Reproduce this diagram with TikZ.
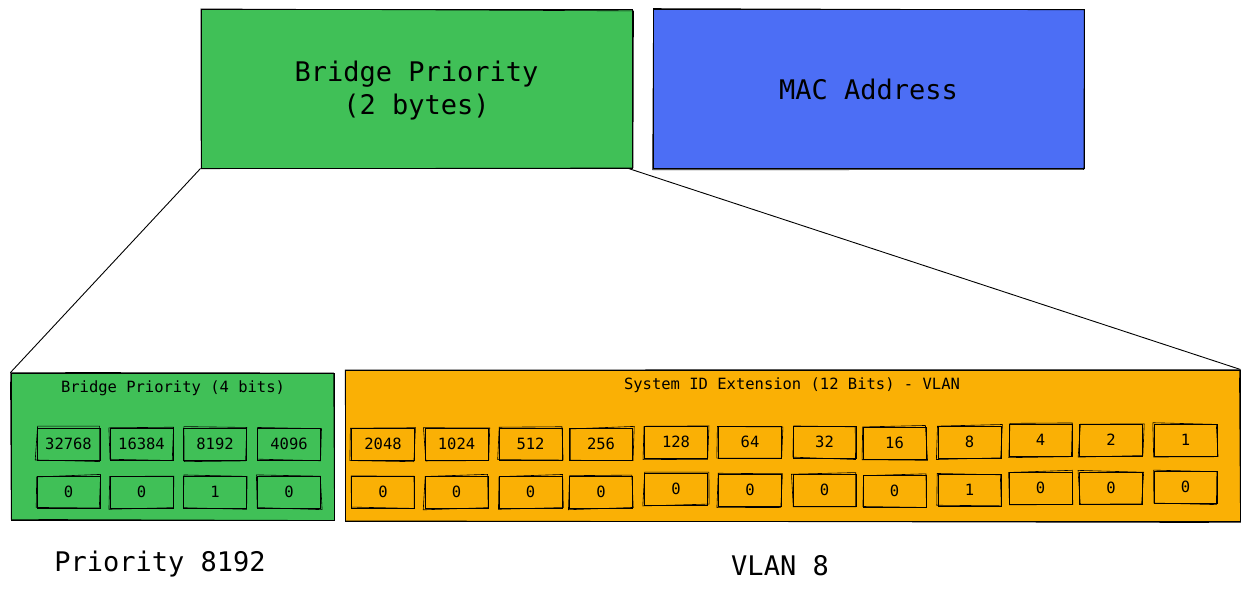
\documentclass[tikz,border=0pt]{standalone}
\usepackage{fontspec}
\setmainfont{DejaVu Sans Mono}
\definecolor{exgreen}{HTML}{40C057}
\definecolor{exblue}{HTML}{4C6EF5}
\definecolor{exorange}{HTML}{FAB005}
\newcommand\skt[1]{%
  \draw[sketchline] ([shift={({1.4*rand},{1.4*rand})}]#1.north west) -- ([shift={({1.4*rand},{1.4*rand})}]#1.north east) -- ([shift={({1.4*rand},{1.4*rand})}]#1.south east) -- ([shift={({1.4*rand},{1.4*rand})}]#1.south west) -- cycle;}
\tikzset{
  sketchline/.style={line width=0.6pt, black},
  bigbox/.style={draw, line width=1pt, inner sep=0pt, font=\fontsize{27}{33}\selectfont, align=center},
  panel/.style={draw, line width=1pt, inner sep=0pt},
  cell/.style={draw, line width=0.9pt, minimum width=63pt, minimum height=32pt, inner sep=0pt, font=\fontsize{15.5}{18}\selectfont},
  lbl/.style={font=\fontsize{15.5}{18}\selectfont, inner sep=0pt},
  biglbl/.style={font=\fontsize{27}{33}\selectfont, inner sep=0pt},
  conn/.style={line width=0.9pt, black},
}
\begin{document}
\begin{tikzpicture}[x=1pt,y=-1pt]
\pgfmathsetseed{7}
\useasboundingbox (0,0) rectangle (1249,591);
% top boxes
\node[bigbox, fill=exgreen, minimum width=431pt, minimum height=158pt] (bp) at (416.5,89) {};
\node[biglbl, align=center] (bpt) at (416.5,91) {Bridge Priority\\(2 bytes)};
\skt{bp}
\node[bigbox, fill=exblue, minimum width=431pt, minimum height=158pt] (mac) at (868.5,89) {MAC Address};
\skt{mac}
% panels
\node[panel, fill=exgreen, minimum width=323pt, minimum height=147pt] (lp) at (172.5,446.5) {};
\skt{lp}
\node[panel, fill=exorange, minimum width=895pt, minimum height=151pt] (sid) at (792.5,445.5) {};
\skt{sid}
% connectors
\draw[conn] (bp.south west) -- (lp.north west);
\draw[conn] ([xshift=-4pt]bp.south east) -- (sid.north east);
% panel titles
\node[lbl] (lpt) at (173,388) {Bridge Priority (4 bits)};
\node[lbl] (sidt) at (792,385) {System ID Extension (12 Bits) - VLAN};
% left cells
\foreach \v/\b/\x [count=\i] in {32768/0/68.5, 16384/0/141.5, 8192/1/215, 4096/0/289}{
  \node[cell] (l\i) at (\x,444) {\v};
  \skt{l\i}
  \node[cell] (lb\i) at (\x,492) {\b};
  \skt{lb\i}
}
% orange cells
\foreach \v/\b/\x/\ya/\yb [count=\i] in {2048/0/383/444/492, 1024/0/456.5/444/492, 512/0/530.5/444/492, 256/0/601/444/492, 128/0/676/442/489, 64/0/750/442/490, 32/0/824.5/442/490, 16/0/894.5/443/491, 8/1/969.5/442/490, 4/0/1040.5/440/488, 2/0/1111/440/488, 1/0/1185.5/440/487}{
  \node[cell] (o\i) at (\x,\ya) {\v};
  \skt{o\i}
  \node[cell] (ob\i) at (\x,\yb) {\b};
  \skt{ob\i}
}
% bottom labels
\node[biglbl] (pr) at (160,564) {Priority 8192};
\node[biglbl] (vl) at (780,566) {VLAN 8};
\end{tikzpicture}
\end{document}
